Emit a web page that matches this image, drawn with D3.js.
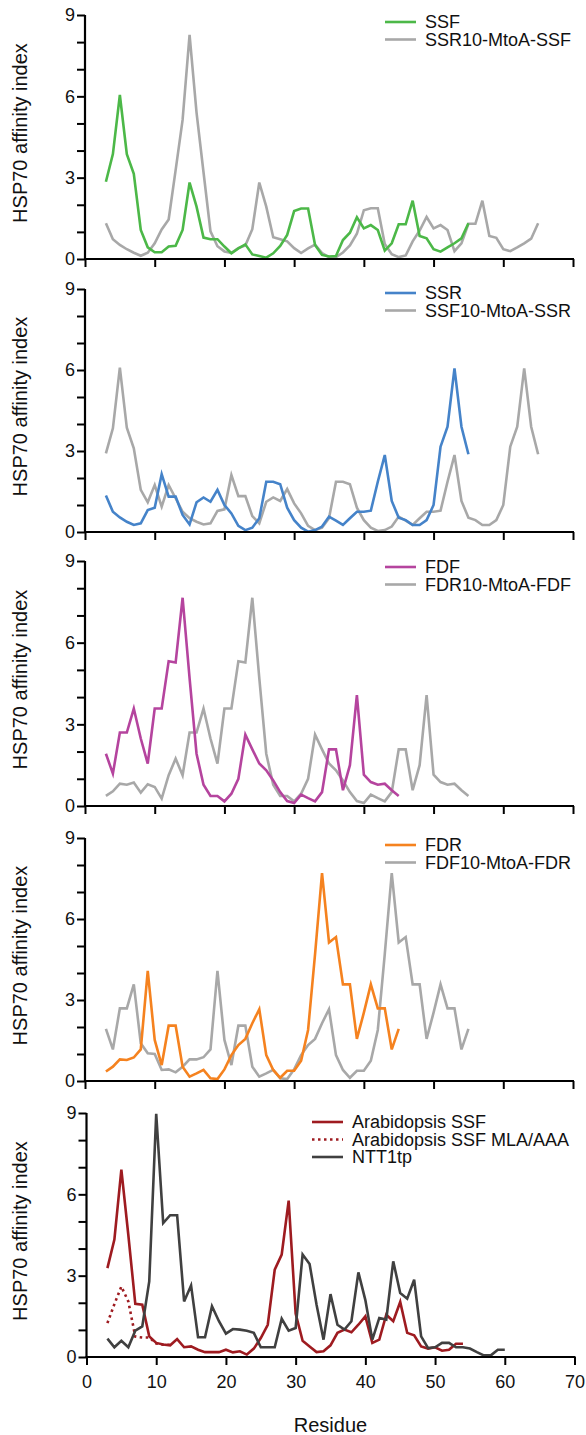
<!DOCTYPE html>
<html>
<head>
<meta charset="utf-8">
<script src="https://cdn.jsdelivr.net/npm/d3@7"></script>
<style>
  html, body { margin: 0; padding: 0; background: #fff; }
  svg { display: block; }
  text { font-family: "Liberation Sans", Arial, Helvetica, sans-serif; fill: #111; }
</style>
</head>
<body>
<svg id="chart" width="586" height="1435"></svg>
<script>
// ---------- data (residue index starts at 3 for every series) ----------
const firstResidue = 3;
const xTicks = [0, 10, 20, 30, 40, 50, 60, 70];
const yTicksMajor = [0, 3, 6, 9];
const yTicksMinor = [0, 1, 2, 3, 4, 5, 6, 7, 8, 9];

const ssf = [2.85, 3.87, 6.05, 3.87, 3.14, 1.07, 0.43, 0.25, 0.25, 0.46, 0.49, 1.07, 2.82, 1.93, 0.79, 0.73, 0.73, 0.46, 0.21, 0.39, 0.54, 0.17, 0.11, 0.05, 0.21, 0.48, 0.89, 1.77, 1.86, 1.86, 0.52, 0.15, 0.09, 0.11, 0.70, 0.97, 1.54, 1.13, 1.25, 1.07, 0.31, 0.58, 1.28, 1.28, 2.15, 0.85, 0.76, 0.36, 0.27, 0.43, 0.58, 0.76, 1.32];
const ssr10MtoASsf = [1.32, 0.73, 0.52, 0.36, 0.23, 0.12, 0.23, 0.58, 1.09, 1.46, 3.28, 5.13, 8.27, 5.4, 3.2, 1.02, 0.47, 0.28, 0.23, 0.40, 0.50, 1.10, 2.82, 1.93, 0.80, 0.73, 0.65, 0.40, 0.22, 0.39, 0.53, 0.22, 0.07, 0.07, 0.24, 0.50, 0.93, 1.80, 1.87, 1.87, 0.55, 0.18, 0.07, 0.13, 0.65, 1.05, 1.55, 1.13, 1.25, 1.07, 0.29, 0.58, 1.30, 1.30, 2.15, 0.85, 0.78, 0.36, 0.29, 0.43, 0.58, 0.75, 1.32];

const ssr = [1.35, 0.75, 0.54, 0.38, 0.26, 0.32, 0.81, 0.90, 2.14, 1.31, 1.31, 0.63, 0.28, 1.10, 1.28, 1.12, 1.56, 1.00, 0.69, 0.23, 0.07, 0.16, 0.51, 1.86, 1.86, 1.77, 0.90, 0.44, 0.16, 0.01, 0.07, 0.20, 0.57, 0.42, 0.26, 0.51, 0.75, 0.75, 0.79, 1.86, 2.85, 1.15, 0.53, 0.44, 0.26, 0.26, 0.44, 1.00, 3.16, 3.90, 6.06, 3.90, 2.88];
const ssf10MtoASsr = [2.91, 3.84, 6.09, 3.86, 3.10, 1.56, 1.10, 1.74, 0.94, 1.74, 1.25, 0.75, 0.51, 0.38, 0.28, 0.32, 0.78, 0.84, 2.11, 1.33, 1.33, 0.59, 0.32, 1.12, 1.28, 1.15, 1.59, 1.06, 0.69, 0.23, 0.07, 0.16, 0.51, 1.86, 1.86, 1.77, 0.90, 0.44, 0.16, 0.04, 0.07, 0.20, 0.57, 0.42, 0.26, 0.51, 0.75, 0.75, 0.79, 1.86, 2.85, 1.15, 0.53, 0.44, 0.26, 0.26, 0.44, 1.00, 3.16, 3.90, 6.06, 3.90, 2.88];

const fdf = [1.92, 1.19, 2.70, 2.70, 3.58, 2.48, 1.56, 3.58, 3.58, 5.32, 5.27, 7.65, 4.70, 1.92, 0.78, 0.37, 0.37, 0.17, 0.45, 1.00, 2.62, 2.08, 1.56, 1.31, 0.94, 0.51, 0.18, 0.11, 0.42, 0.29, 0.17, 0.51, 2.08, 2.08, 0.58, 1.50, 4.07, 1.15, 0.88, 0.78, 0.82, 0.58, 0.37];
const fdr10MtoAFdf = [0.37, 0.54, 0.82, 0.78, 0.86, 0.49, 0.80, 0.70, 0.27, 1.13, 1.74, 1.13, 2.70, 2.70, 3.58, 2.48, 1.56, 3.58, 3.58, 5.32, 5.27, 7.65, 4.70, 1.92, 0.78, 0.37, 0.37, 0.17, 0.45, 1.00, 2.62, 2.08, 1.56, 1.31, 0.94, 0.51, 0.18, 0.11, 0.42, 0.29, 0.17, 0.51, 2.08, 2.08, 0.58, 1.50, 4.07, 1.15, 0.88, 0.78, 0.82, 0.58, 0.37];

const fdr = [0.35, 0.53, 0.80, 0.78, 0.87, 1.17, 4.08, 1.52, 0.59, 2.05, 2.05, 0.53, 0.16, 0.28, 0.41, 0.10, 0.07, 0.43, 0.96, 1.33, 1.56, 2.14, 2.66, 0.96, 0.41, 0.12, 0.38, 0.38, 0.75, 1.89, 4.70, 7.70, 5.13, 5.33, 3.58, 3.58, 1.56, 2.53, 3.58, 2.69, 2.69, 1.17, 1.93];
const fdf10MtoAFdr = [1.93, 1.17, 2.69, 2.69, 3.58, 1.40, 1.03, 1.00, 0.41, 0.43, 0.32, 0.53, 0.80, 0.80, 0.88, 1.17, 4.08, 1.52, 0.59, 2.05, 2.05, 0.53, 0.16, 0.28, 0.41, 0.10, 0.07, 0.43, 0.96, 1.33, 1.56, 2.14, 2.66, 0.96, 0.41, 0.12, 0.38, 0.38, 0.75, 1.89, 4.70, 7.70, 5.13, 5.33, 3.58, 3.58, 1.56, 2.53, 3.58, 2.69, 2.69, 1.17, 1.93];

const arabidopsisSsf = [3.28, 4.33, 6.91, 4.50, 1.96, 1.93, 0.76, 0.52, 0.46, 0.43, 0.66, 0.36, 0.39, 0.27, 0.18, 0.18, 0.18, 0.27, 0.17, 0.21, 0.09, 0.31, 0.70, 1.19, 3.22, 3.78, 5.77, 1.60, 0.60, 0.39, 0.18, 0.21, 0.43, 0.89, 1.01, 0.91, 1.19, 1.50, 0.52, 0.64, 1.56, 1.32, 2.03, 0.89, 0.80, 0.39, 0.31, 0.36, 0.23, 0.27, 0.49, 0.49];
const arabidopsisSsfMla = [1.25, 1.95, 2.60, 2.05, 0.75, 0.72, 0.72, 0.50, 0.45, 0.45];
const ntt1tp = [0.68, 0.36, 0.60, 0.36, 0.97, 1.13, 2.79, 8.97, 4.94, 5.23, 5.23, 2.05, 2.64, 0.73, 0.73, 1.87, 1.32, 0.86, 1.03, 1.01, 0.97, 0.89, 0.36, 0.36, 0.36, 1.41, 0.97, 1.07, 3.78, 3.43, 1.93, 0.64, 2.32, 1.19, 1.01, 1.32, 3.12, 2.10, 0.64, 1.44, 1.38, 3.53, 2.36, 2.15, 2.85, 0.76, 0.33, 0.36, 0.52, 0.52, 0.36, 0.36, 0.31, 0.18, 0.06, 0.06, 0.27, 0.27];

// ---------- panels ----------
const panels = [
  { y9: 15,   y0: 259,  dx: 0,   legendX: 385, legendY: 22,
    series: [
      { name: "SSF", values: ssf, color: "#4cb848" },
      { name: "SSR10-MtoA-SSF", values: ssr10MtoASsf, color: "#a8a8a8" }
    ], draw: [1, 0] },
  { y9: 289,  y0: 532,  dx: 0,   legendX: 385, legendY: 293,
    series: [
      { name: "SSR", values: ssr, color: "#4583c9" },
      { name: "SSF10-MtoA-SSR", values: ssf10MtoASsr, color: "#a8a8a8" }
    ], draw: [1, 0] },
  { y9: 561,  y0: 806,  dx: 0,   legendX: 385, legendY: 567,
    series: [
      { name: "FDF", values: fdf, color: "#b5449e" },
      { name: "FDR10-MtoA-FDF", values: fdr10MtoAFdf, color: "#a8a8a8" }
    ], draw: [1, 0] },
  { y9: 838,  y0: 1081, dx: 0,   legendX: 385, legendY: 845,
    series: [
      { name: "FDR", values: fdr, color: "#f5821f" },
      { name: "FDF10-MtoA-FDR", values: fdf10MtoAFdr, color: "#a8a8a8" }
    ], draw: [1, 0] },
  { y9: 1113, y0: 1357, dx: 1.5, legendX: 312, legendY: 1122, bottom: true,
    series: [
      { name: "Arabidopsis SSF", values: arabidopsisSsf, color: "#9e1b20" },
      { name: "Arabidopsis SSF MLA/AAA", values: arabidopsisSsfMla, color: "#9e1b20", dotted: true },
      { name: "NTT1tp", values: ntt1tp, color: "#404040" }
    ], draw: [1, 0, 2] }
];

const svg = d3.select("#chart");

panels.forEach(p => {
  const x = d3.scaleLinear().domain([0, 70]).range([85 + p.dx, 573 + p.dx]);
  const y = d3.scaleLinear().domain([0, 9]).range([p.y0, p.y9]);
  const g = svg.append("g");

  // lines
  const line = d3.line()
    .x((d, i) => x(firstResidue + i))
    .y(d => y(d));
  p.draw.forEach(idx => {
    const s = p.series[idx];
    g.append("path")
      .datum(s.values)
      .attr("d", line)
      .attr("fill", "none")
      .attr("stroke", s.color)
      .attr("stroke-width", 2.6)
      .attr("stroke-linejoin", "miter")
      .attr("stroke-dasharray", s.dotted ? "2.5,3.5" : null);
  });

  // y axis: minor ticks every unit, labels at 0,3,6,9
  const yAxis = d3.axisLeft(y).tickValues(yTicksMinor).tickSize(8)
    .tickFormat(d => yTicksMajor.includes(d) ? d : "");
  const ya = g.append("g").attr("transform", `translate(${x(0)},0)`).call(yAxis);
  ya.select(".domain").attr("stroke", "#000").attr("stroke-width", 2.2)
    .attr("d", `M0,${p.y9}V${p.y0 + 1}`);
  ya.selectAll(".tick line").attr("stroke", "#000").attr("stroke-width", 2);
  ya.selectAll(".tick text").attr("font-size", 18).attr("x", -10)
    .style("font-family", '"Liberation Sans", Arial, sans-serif').attr("fill", "#111");

  // x axis
  const xAxis = d3.axisBottom(x).tickValues(xTicks).tickSize(8)
    .tickFormat(p.bottom ? d3.format("d") : "");
  const xa = g.append("g").attr("transform", `translate(0,${p.y0})`).call(xAxis);
  xa.select(".domain").attr("stroke", "#000").attr("stroke-width", 2.2)
    .attr("d", `M${x(0) - 1},0H${x(70) + 1}`);
  xa.selectAll(".tick line").attr("stroke", "#000").attr("stroke-width", 2);
  xa.selectAll(".tick text").attr("font-size", 18).attr("y", 18)
    .style("font-family", '"Liberation Sans", Arial, sans-serif').attr("fill", "#111");

  // y label
  svg.append("text")
    .attr("transform", `translate(27,${(p.y9 + p.y0) / 2 - 4}) rotate(-90)`)
    .attr("text-anchor", "middle")
    .attr("font-size", 20)
    .text("HSP70 affinity index");

  // legend
  p.series.forEach((s, i) => {
    const ly = p.legendY + i * 17.5;
    g.append("line")
      .attr("x1", p.legendX).attr("x2", p.legendX + 31)
      .attr("y1", ly).attr("y2", ly)
      .attr("stroke", s.color).attr("stroke-width", 2.6)
      .attr("stroke-dasharray", s.dotted ? "2.5,3.5" : null);
    g.append("text")
      .attr("x", p.legendX + 40).attr("y", ly)
      .attr("dy", "0.35em")
      .attr("font-size", 18)
      .text(s.name);
  });

  if (p.bottom) {
    svg.append("text")
      .attr("x", (x(0) + x(70)) / 2).attr("y", 1432)
      .attr("text-anchor", "middle")
      .attr("font-size", 20)
      .text("Residue");
  }
});
</script>
</body>
</html>
